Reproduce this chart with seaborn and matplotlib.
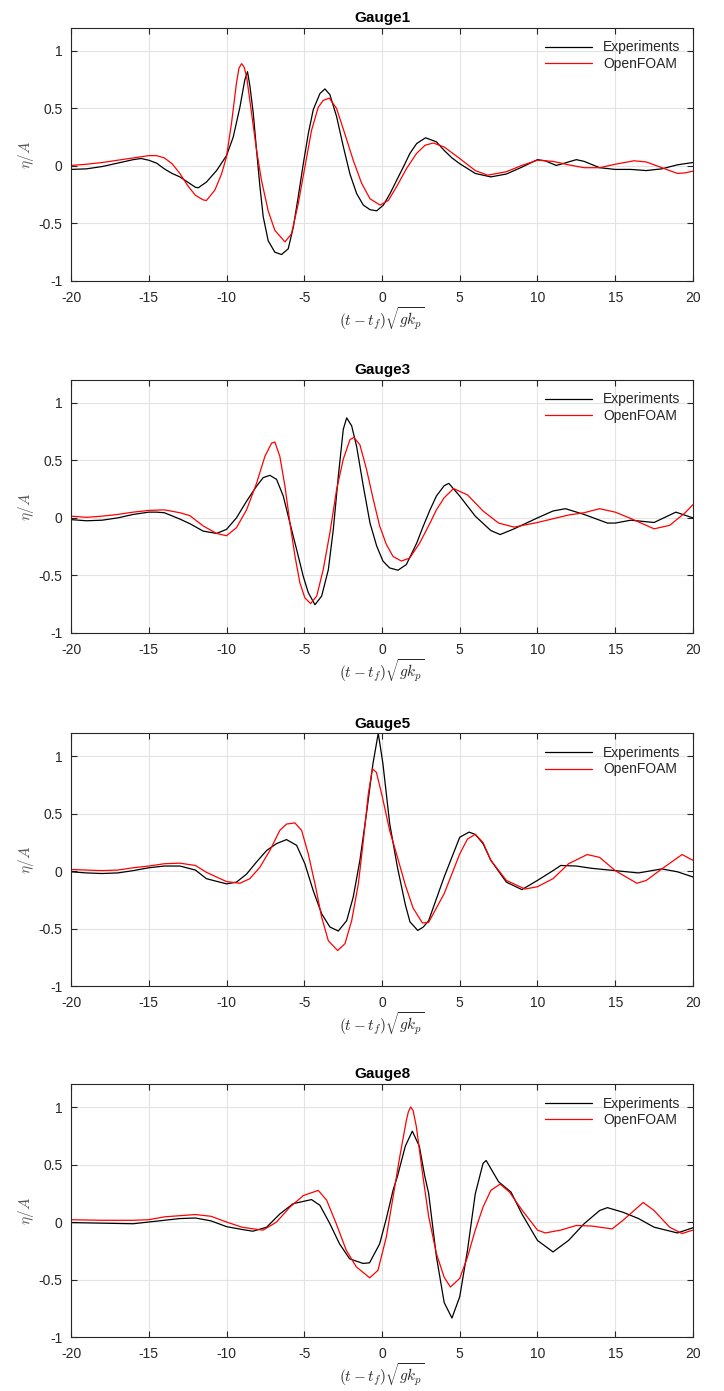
import seaborn as sns
import matplotlib.pyplot as plt

# values, eta/A vs (t - t_f) sqrt(g k_p)
g1_exp_x = [-20, -19, -18, -17, -16, -15.5, -15, -14.5, -14, -13.5, -13, -12.5, -12, -11.82, -11.29, -10.64, -10,
            -9.57, -9.14, -8.82, -8.65, -8.5, -8.28, -8.07, -7.85, -7.64, -7.32, -6.89, -6.46, -6.03, -5.7, -5.39,
            -5.06, -4.74, -4.42, -3.99, -3.67, -3.35, -2.92, -2.49, -2.06, -1.63, -1.2, -0.77, -0.34, 0.09, 0.52,
            0.94, 1.37, 1.8, 2.23, 2.8, 3.5, 4, 4.5, 5, 6, 7, 8, 9, 10, 10.5, 11.2, 11.5, 12.5, 13, 14, 15, 16, 17,
            18, 19, 20]
g1_exp_y = [-0.03, -0.025, -0.005, 0.025, 0.055, 0.065, 0.05, 0.025, -0.025, -0.065, -0.095, -0.14, -0.185, -0.19,
            -0.14, -0.04, 0.09, 0.25, 0.51, 0.75, 0.82, 0.70, 0.46, 0.14, -0.18, -0.44, -0.65, -0.75, -0.77, -0.72,
            -0.53, -0.27, 0.02, 0.28, 0.49, 0.63, 0.67, 0.62, 0.43, 0.17, -0.07, -0.24, -0.34, -0.38, -0.39, -0.34,
            -0.24, -0.125, -0.01, 0.11, 0.195, 0.245, 0.21, 0.135, 0.07, 0.02, -0.065, -0.095, -0.07, -0.01, 0.055,
            0.045, 0.005, 0.015, 0.055, 0.04, -0.015, -0.03, -0.03, -0.04, -0.025, 0.01, 0.03]
g1_cfd_x = [-20, -19, -18, -17, -16, -15, -14.5, -14, -13.5, -13, -12.5, -12, -11.5, -11.29, -10.75, -10.32, -10,
            -9.68, -9.36, -9.2, -9.03, -8.87, -8.71, -8.39, -8.07, -7.75, -7.32, -6.89, -6.24, -5.82, -5.39, -4.96,
            -4.53, -4.1, -3.78, -3.39, -2.92, -2.39, -1.85, -1.31, -0.77, -0.13, 0.41, 0.94, 1.59, 2.23, 2.77, 3.3,
            4, 5, 6, 6.8, 8, 9, 10, 11, 12, 13, 14, 15, 16.2, 17, 18, 19, 19.5, 20]
g1_cfd_y = [0.005, 0.015, 0.03, 0.05, 0.07, 0.09, 0.09, 0.07, 0.02, -0.065, -0.17, -0.255, -0.295, -0.3, -0.21,
            -0.07, 0.08, 0.37, 0.72, 0.85, 0.89, 0.86, 0.78, 0.46, 0.14, -0.125, -0.39, -0.56, -0.66, -0.59, -0.33,
            -0.01, 0.31, 0.51, 0.57, 0.59, 0.5, 0.28, 0.05, -0.15, -0.285, -0.34, -0.30, -0.18, -0.02, 0.11, 0.18,
            0.2, 0.165, 0.065, -0.04, -0.08, -0.05, 0.005, 0.05, 0.04, 0.01, -0.015, -0.015, 0.015, 0.045, 0.035,
            -0.015, -0.065, -0.06, -0.045]

g3_exp_x = [-20, -19, -18, -17, -16, -15, -14.5, -14, -13, -12.36, -11.5, -10.64, -10, -9.36, -8.71, -8.07, -7.64,
            -7.21, -6.78, -6.35, -5.92, -5.49, -5.06, -4.74, -4.31, -3.88, -3.45, -3.13, -2.81, -2.49, -2.27, -1.95,
            -1.63, -1.2, -0.77, -0.34, 0.06, 0.49, 1.03, 1.57, 2.23, 2.66, 3.09, 3.5, 4, 4.3, 5, 6, 7, 7.6, 8.5, 10,
            11, 11.8, 13, 14.5, 15, 16, 17.5, 18.9, 20]
g3_exp_y = [-0.015, -0.025, -0.02, 0, 0.03, 0.05, 0.05, 0.045, -0.01, -0.05, -0.115, -0.135, -0.10, 0, 0.145, 0.275,
            0.35, 0.37, 0.335, 0.19, -0.045, -0.275, -0.51, -0.65, -0.755, -0.68, -0.45, -0.10, 0.36, 0.77, 0.87,
            0.80, 0.62, 0.275, -0.045, -0.245, -0.375, -0.435, -0.455, -0.405, -0.22, -0.07, 0.07, 0.19, 0.28, 0.30,
            0.19, 0.015, -0.11, -0.145, -0.095, 0, 0.06, 0.08, 0.03, -0.045, -0.045, -0.02, -0.04, 0.05, 0]
g3_cfd_x = [-20, -19, -18, -17, -16, -15, -14, -13, -12.36, -11.5, -10.64, -10, -9.36, -8.71, -8.07, -7.53, -7.1,
            -6.89, -6.57, -6.24, -5.92, -5.6, -5.28, -4.96, -4.59, -4.2, -3.78, -3.35, -2.92, -2.49, -2.06, -1.8,
            -1.42, -0.99, -0.56, -0.15, 0.28, 0.71, 1.24, 1.78, 2.42, 3.09, 3.5, 4, 4.6, 5.5, 6.5, 7.5, 8.5, 10, 12,
            13, 14, 15, 16, 17.5, 18.5, 19.5, 20]
g3_cfd_y = [0.015, 0.005, 0.015, 0.03, 0.05, 0.065, 0.07, 0.045, 0.02, -0.07, -0.135, -0.155, -0.085, 0.07, 0.30,
            0.535, 0.65, 0.66, 0.535, 0.275, -0.045, -0.33, -0.565, -0.695, -0.745, -0.68, -0.45, -0.13, 0.245, 0.51,
            0.68, 0.70, 0.635, 0.42, 0.16, -0.07, -0.23, -0.335, -0.375, -0.35, -0.22, -0.045, 0.07, 0.175, 0.255,
            0.2, 0.06, -0.045, -0.08, -0.04, 0.025, 0.045, 0.08, 0.05, -0.005, -0.095, -0.065, 0.045, 0.115]

g5_exp_x = [-20, -19, -18, -17, -16, -15, -14, -13, -12, -11.29, -10, -9.36, -8.71, -8.07, -7.42, -6.78, -6.14,
            -5.49, -4.96, -4.42, -3.88, -3.35, -2.81, -2.27, -1.85, -1.42, -1.0, -0.58, -0.24, 0.06, 0.5, 1.0, 1.5,
            1.8, 2.3, 2.66, 3, 4, 5, 5.6, 6, 6.5, 7, 8, 9, 10, 11, 11.5, 12.5, 13.5, 15, 16.5, 18, 19, 20]
g5_exp_y = [-0.005, -0.015, -0.02, -0.015, 0.005, 0.03, 0.045, 0.045, 0.01, -0.065, -0.11, -0.095, -0.025, 0.08,
            0.18, 0.24, 0.275, 0.225, 0.065, -0.17, -0.37, -0.485, -0.52, -0.43, -0.225, 0.095, 0.5, 0.935, 1.2,
            0.935, 0.41, 0.03, -0.29, -0.44, -0.515, -0.485, -0.43, -0.05, 0.295, 0.34, 0.32, 0.24, 0.095, -0.095,
            -0.16, -0.08, 0.005, 0.05, 0.045, 0.025, 0.005, -0.015, 0.02, -0.005, -0.05]
g5_cfd_x = [-20, -18, -17, -16, -15, -14, -13, -12, -11.29, -10, -9.14, -8.5, -7.85, -7.21, -6.57, -6.14, -5.6,
            -5.17, -4.74, -4.31, -3.88, -3.45, -2.85, -2.38, -1.95, -1.52, -1.2, -0.88, -0.62, -0.36, 0, 0.5, 1.0,
            1.5, 2.0, 2.6, 3, 4, 5, 5.5, 6, 6.5, 7, 8, 9.2, 10, 11, 12, 13.2, 14, 15, 16.4, 17, 18, 19.3, 20]
g5_cfd_y = [0.015, 0.005, 0.01, 0.03, 0.045, 0.065, 0.07, 0.05, -0.01, -0.09, -0.105, -0.065, 0.035, 0.18, 0.355,
            0.41, 0.42, 0.355, 0.15, -0.11, -0.40, -0.605, -0.69, -0.63, -0.43, -0.11, 0.265, 0.67, 0.89, 0.86,
            0.66, 0.35, 0.12, -0.12, -0.32, -0.45, -0.445, -0.195, 0.15, 0.28, 0.32, 0.25, 0.095, -0.08, -0.155,
            -0.135, -0.065, 0.065, 0.145, 0.12, 0.005, -0.105, -0.08, 0.02, 0.145, 0.095]

g8_exp_x = [-20, -18, -16, -15, -14, -13, -12, -11, -10, -9, -8.3, -7.42, -6.57, -5.71, -4.53, -3.99, -3.35, -2.73,
            -2.08, -1.22, -0.8, -0.15, 0.28, 0.71, 1.0, 1.5, 1.95, 2.4, 2.75, 3.0, 3.5, 4, 4.5, 5, 5.5, 6, 6.5,
            6.7, 7.5, 8.3, 9, 10, 11, 12, 13, 14, 14.5, 15.5, 16.5, 17.5, 19, 20]
g8_exp_y = [-0.005, -0.01, -0.015, 0, 0.015, 0.03, 0.035, 0.01, -0.04, -0.065, -0.08, -0.045, 0.07, 0.16, 0.195,
            0.145, -0.015, -0.19, -0.32, -0.36, -0.355, -0.19, 0.03, 0.275, 0.40, 0.66, 0.79, 0.66, 0.4, 0.25,
            -0.3, -0.70, -0.835, -0.65, -0.245, 0.245, 0.51, 0.535, 0.35, 0.26, 0.07, -0.16, -0.26, -0.16, -0.015,
            0.10, 0.125, 0.085, 0.03, -0.045, -0.095, -0.05]
g8_cfd_x = [-20, -18, -16, -15, -14, -12, -11, -10, -9, -8, -7.64, -6.78, -5.92, -5.06, -4.1, -3.56, -2.94, -2.3,
            -1.65, -0.79, -0.26, 0.28, 0.71, 1.14, 1.57, 1.7, 1.85, 2.0, 2.21, 2.64, 3.0, 3.5, 4, 4.4, 5, 5.5, 6,
            6.5, 7, 7.6, 8.2, 9, 10, 10.5, 11.5, 12.5, 13.5, 14.8, 15.5, 16.8, 17.5, 18.5, 19.3, 20]
g8_cfd_y = [0.02, 0.015, 0.015, 0.02, 0.045, 0.065, 0.05, 0, -0.045, -0.065, -0.07, 0, 0.13, 0.23, 0.275, 0.19,
            -0.015, -0.245, -0.39, -0.485, -0.42, -0.13, 0.215, 0.565, 0.885, 0.96, 1.0, 0.97, 0.83, 0.39, 0.05,
            -0.275, -0.48, -0.565, -0.49, -0.305, -0.07, 0.13, 0.275, 0.33, 0.26, 0.105, -0.07, -0.095, -0.07,
            -0.03, -0.035, -0.06, 0.015, 0.17, 0.10, -0.045, -0.10, -0.07]

gauges = [
    ("Gauge1", g1_exp_x, g1_exp_y, g1_cfd_x, g1_cfd_y),
    ("Gauge3", g3_exp_x, g3_exp_y, g3_cfd_x, g3_cfd_y),
    ("Gauge5", g5_exp_x, g5_exp_y, g5_cfd_x, g5_cfd_y),
    ("Gauge8", g8_exp_x, g8_exp_y, g8_cfd_x, g8_cfd_y),
]

sns.set_theme(style="whitegrid")
plt.rcParams['font.family'] = ['Liberation Sans', 'DejaVu Sans']
plt.rcParams['mathtext.fontset'] = 'cm'
plt.rcParams['axes.unicode_minus'] = False

fig = plt.figure(figsize=(7.24, 13.91), dpi=100)
bottoms = [0.798, 0.545, 0.291, 0.0388]

for (name, ex, ey, cx, cy), b in zip(gauges, bottoms):
    ax = fig.add_axes([0.0981, b, 0.859, 0.1819])
    sns.lineplot(x=ex, y=ey, color='black', linewidth=0.9, ax=ax, label='Experiments', sort=False)
    sns.lineplot(x=cx, y=cy, color='red', linewidth=0.9, ax=ax, label='OpenFOAM', sort=False)
    ax.set_xlim(-20, 20)
    ax.set_ylim(-1, 1.2)
    ax.set_xticks(range(-20, 21, 5))
    ax.set_xticklabels([str(v) for v in range(-20, 21, 5)])
    ax.set_yticks([-1, -0.5, 0, 0.5, 1])
    ax.set_yticklabels(['-1', '-0.5', '0', '0.5', '1'])
    ax.grid(color='#e3e3e3', linewidth=0.8)
    ax.tick_params(direction='in', bottom=True, left=True, top=True, right=True, length=4,
                   color='#262626', labelsize=10, labelcolor='#262626', width=0.8)
    ax.tick_params(axis='x', pad=7)
    ax.tick_params(axis='y', pad=6)
    for s in ax.spines.values():
        s.set_visible(True)
        s.set_color('#262626')
        s.set_linewidth(0.8)
    ax.set_title(name, fontweight='bold', fontsize=11, pad=4, color='black')
    ax.set_xlabel(r'$(t-t_f)\sqrt{gk_p}$', fontsize=11, color='#262626', labelpad=0)
    ax.set_ylabel(r'$\eta/A$', fontsize=11, color='#555555', labelpad=2)
    ax.legend(loc='upper right', frameon=False, fontsize=10, handlelength=3.4, labelspacing=0.2)

fig.savefig('out.png', dpi=100)
